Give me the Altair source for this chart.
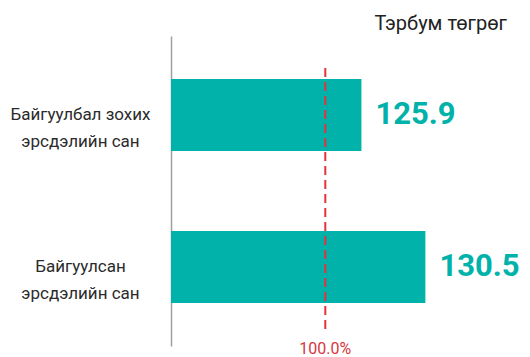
import altair as alt
import pandas as pd

categories = ["Байгуулбал зохих|эрсдэлийн сан", "Байгуулсан|эрсдэлийн сан"]
values = [125.9, 130.5]
value_labels = ["125.9", "130.5"]
ref_value = [123.3]
ref_label = ["100.0%"]
unit_title = ["Тэрбум төгрөг"]

FONT = "Roboto, sans-serif"
TEAL = "#00b2a9"
RED = "#e5323b"

df = pd.DataFrame({"cat": categories, "val": values, "lab": value_labels})
ref = pd.DataFrame({"ref": ref_value, "lab": ref_label})
ttl = pd.DataFrame({"t": unit_title})

W, H = 348, 310
xscale = alt.Scale(domain=[112.2, 137.235], zero=False, clamp=True, nice=False)
yscale = alt.Scale(paddingInner=0.5263, paddingOuter=0.283)

base = alt.Chart(df)

bars = base.mark_bar(color=TEAL).encode(
    x=alt.X("val:Q", scale=xscale, axis=None),
    y=alt.Y("cat:N", scale=yscale, sort=categories,
            axis=alt.Axis(title=None, ticks=False, domain=True, domainColor="#a0a0a0",
                          domainWidth=1.5, labelPadding=91, labelAlign="center",
                          labelFont=FONT, labelFontSize=17, labelColor="#2b2b2b",
                          labelLimit=300, labelLineHeight=27, labelBaseline="middle",
                          labelExpr="split(datum.label, '|')", grid=False)),
)

texts = base.mark_text(align="left", baseline="alphabetic", dx=14, dy=9,
                       font=FONT, fontSize=31, fontWeight="bold", color=TEAL).encode(
    x=alt.X("val:Q", scale=xscale),
    y=alt.Y("cat:N", scale=yscale, sort=categories),
    text="lab:N",
)

rule = alt.Chart(ref).mark_rule(color=RED, strokeWidth=2, strokeDash=[9, 5]).encode(
    x=alt.X("ref:Q", scale=xscale),
    y=alt.value(32), y2=alt.value(294),
)

rule_lab = alt.Chart(ref).mark_text(align="center", baseline="alphabetic", font=FONT,
                                    fontSize=16, color="#d9363e").encode(
    x=alt.X("ref:Q", scale=xscale),
    y=alt.value(318),
    text="lab:N",
)

title = alt.Chart(ttl).mark_text(align="right", baseline="alphabetic", font=FONT,
                                 fontSize=20, color="#222222").encode(
    x=alt.value(336), y=alt.value(-6), text="t:N",
)

chart = alt.layer(bars, texts, rule, rule_lab, title).properties(
    width=W, height=H,
    autosize=alt.AutoSizeParams(type="none"),
    padding={"left": 163, "top": 28, "right": 3, "bottom": 11},
).configure_view(stroke=None)

chart.save("out.html", embed_options={"renderer": "svg", "actions": False})
